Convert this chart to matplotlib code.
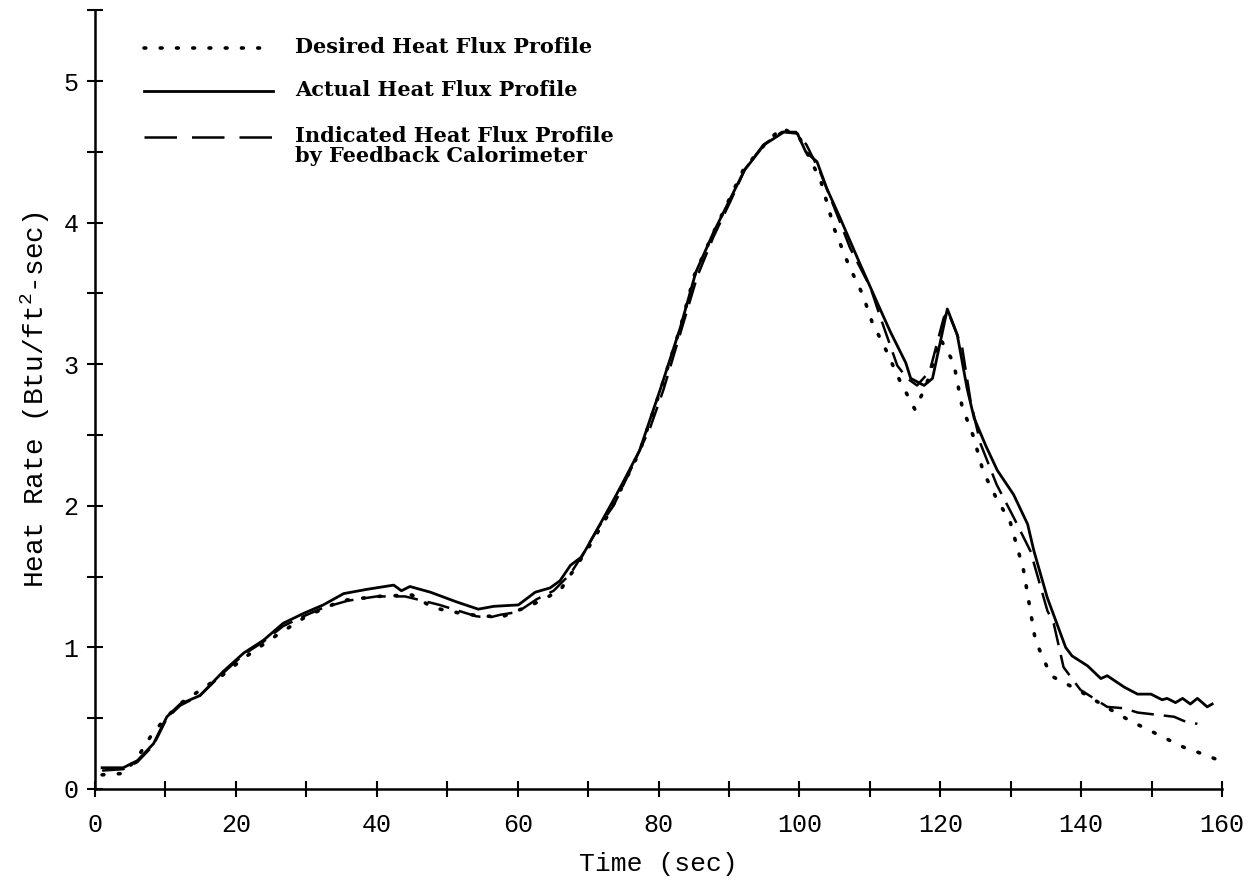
import matplotlib
matplotlib.use("Agg")
import matplotlib.pyplot as plt
from matplotlib.lines import Line2D
from matplotlib.ticker import MultipleLocator

# Desired heat flux profile (dotted)
t_desired = [1, 4, 6, 8, 10, 12, 15, 18, 21, 25, 30, 35, 40, 45, 48, 52, 55, 58, 62, 66,
             70, 73, 77.3, 80.3, 83.1, 85.1, 87.8, 89.9, 92.1, 95.4, 97.5, 100, 103, 105, 107,
             109, 110.3, 112.2, 114.2, 116.4, 118, 120, 121.9, 123.1, 124.7, 126.1, 128,
             129.9, 131.8, 133.5, 135.7, 138, 140.2, 143.5, 147, 151.5, 154.3, 157.1, 159.7]
q_desired = [0.10, 0.11, 0.22, 0.38, 0.50, 0.60, 0.70, 0.80, 0.92, 1.06, 1.22, 1.33, 1.36,
             1.37, 1.28, 1.24, 1.22, 1.22, 1.30, 1.40, 1.70, 1.95, 2.38, 2.82, 3.26, 3.63,
             3.93, 4.15, 4.38, 4.57, 4.67, 4.60, 4.30, 3.95, 3.70, 3.49, 3.30, 3.11, 2.89,
             2.68, 2.85, 3.18, 3.01, 2.70, 2.49, 2.24, 2.05, 1.89, 1.55, 1.05, 0.80, 0.74,
             0.68, 0.58, 0.48, 0.37, 0.30, 0.25, 0.20]

# Actual heat flux profile (solid)
t_actual = [1, 4, 6, 8.3, 10.2, 12.1, 14.9, 18.2, 21.1, 23.9, 26.7, 29.6, 32.4, 35.3, 38.6,
            42.4, 43.5, 44.7, 47.6, 51.4, 54.4, 56.6, 60.1, 62.5, 64.6, 66, 67.5, 69.1, 71.7,
            73.6, 75, 77.3, 80.3, 83.1, 85.3, 87.8, 90, 92.2, 95, 97.8, 99.7, 100.9, 102.5,
            103.9, 105.8, 108.5, 111, 112.9, 115.1, 115.8, 117.7, 118.9, 121, 122.4, 123.8,
            124.8, 126.5, 128.1, 130.4, 132.4, 133.3, 135.2, 137.8, 138.7, 140.9, 142.8, 143.7,
            146.1, 148, 149.9, 151.5, 152.2, 153.4, 154.4, 155.5, 156.5, 157.9, 158.6]
q_actual = [0.15, 0.15, 0.20, 0.32, 0.51, 0.60, 0.66, 0.83, 0.96, 1.05, 1.17, 1.24, 1.30, 1.38,
            1.41, 1.44, 1.40, 1.43, 1.39, 1.32, 1.27, 1.29, 1.30, 1.39, 1.42, 1.47, 1.58, 1.64,
            1.87, 2.04, 2.17, 2.39, 2.83, 3.26, 3.65, 3.93, 4.15, 4.37, 4.55, 4.64, 4.63, 4.50,
            4.43, 4.24, 4.03, 3.72, 3.44, 3.23, 3.01, 2.90, 2.85, 2.90, 3.39, 3.21, 2.83, 2.62,
            2.42, 2.25, 2.08, 1.87, 1.68, 1.35, 1.00, 0.94, 0.87, 0.78, 0.80, 0.72, 0.67, 0.67,
            0.63, 0.64, 0.61, 0.64, 0.60, 0.64, 0.58, 0.60]

# Indicated heat flux profile by feedback calorimeter (dashed)
t_indicated = [1, 4, 6, 8.3, 10.2, 12.1, 14.9, 18.2, 21.1, 23.9, 26.7, 29.6, 32.4, 35.9, 40,
               44, 46.5, 48.9, 51.5, 54.1, 55.9, 57.5, 60, 62.7, 65.1, 67.5, 69.4, 71.5, 73.6,
               76, 78.8, 80.7, 83.1, 85.5, 87.8, 90.2, 92.3, 94.9, 97.5, 99.5, 101, 103, 105,
               107.2, 110.1, 111.5, 113.9, 115.3, 116.7, 118.5, 120.5, 121.1, 123.1, 124.3,
               125.7, 128, 130.4, 132.8, 135.2, 136.1, 137.5, 139.9, 143.7, 146.1, 148, 153.2,
               154.6, 156.5]
q_indicated = [0.13, 0.14, 0.19, 0.31, 0.50, 0.59, 0.66, 0.82, 0.95, 1.04, 1.15, 1.22, 1.28,
               1.33, 1.36, 1.36, 1.33, 1.30, 1.26, 1.22, 1.21, 1.23, 1.25, 1.34, 1.40, 1.52,
               1.67, 1.85, 2.00, 2.25, 2.55, 2.82, 3.22, 3.62, 3.90, 4.15, 4.38, 4.55, 4.64,
               4.64, 4.55, 4.35, 4.10, 3.82, 3.54, 3.33, 2.99, 2.90, 2.85, 2.95, 3.33, 3.37,
               3.12, 2.74, 2.44, 2.15, 1.92, 1.68, 1.26, 1.17, 0.86, 0.70, 0.58, 0.57, 0.54,
               0.51, 0.48, 0.46]

labels = ["Desired Heat Flux Profile", "Actual Heat Flux Profile",
          "Indicated Heat Flux Profile\nby Feedback Calorimeter"]

mono = "Liberation Mono"
plt.rcParams["mathtext.fontset"] = "custom"
plt.rcParams["mathtext.rm"] = mono
plt.rcParams["mathtext.it"] = mono

fig = plt.figure(figsize=(12.54, 8.89), dpi=100)
ax = fig.add_axes([0.0758, 0.1125, 0.8987, 0.876])

dot_style = dict(color="black", lw=2.6, linestyle=(0, (0.5, 4)), dash_capstyle="round")
solid_style = dict(color="black", lw=2.0)
dash_style = dict(color="black", lw=1.8, linestyle=(0, (9, 4)))

ax.plot(t_desired, q_desired, **dot_style)
ax.plot(t_actual, q_actual, **solid_style)
ax.plot(t_indicated, q_indicated, **dash_style)

ax.set_xlim(0, 160)
ax.set_ylim(0, 5.5)
ax.spines["top"].set_visible(False)
ax.spines["right"].set_visible(False)
ax.spines["left"].set_linewidth(1.8)
ax.spines["bottom"].set_linewidth(1.8)

ax.xaxis.set_major_locator(MultipleLocator(20))
ax.xaxis.set_minor_locator(MultipleLocator(10))
ax.yaxis.set_major_locator(MultipleLocator(1))
ax.yaxis.set_minor_locator(MultipleLocator(0.5))
ax.tick_params(which="both", direction="inout", length=12, width=1.5, color="black")
ax.tick_params(axis="x", which="major", pad=11)
ax.tick_params(axis="y", which="major", pad=6)

for lab in ax.get_xticklabels() + ax.get_yticklabels():
    lab.set_fontfamily(mono)
    lab.set_fontsize(18)

ax.set_xlabel("Time (sec)", fontfamily=mono, fontsize=19, labelpad=11)
ax.set_ylabel(r"Heat Rate (Btu/ft$^{2}$-sec)", fontfamily=mono, fontsize=20, labelpad=8)

# legend drawn by hand: sample line on the left, text on the right, aligned to first text line
key_styles = [dot_style, solid_style, dict(dash_style, linestyle=(0, (13, 6)))]
key_rows = [0.946, 0.8976, 0.8459]
for style, row, text in zip(key_styles, key_rows, labels):
    fig.add_artist(Line2D([0.1148, 0.2177], [row, row], transform=fig.transFigure, **style))
    fig.text(0.2352, row + 0.012, text, ha="left", va="top", linespacing=0.95,
             family="DejaVu Serif", weight="bold", fontsize=15)

fig.savefig("out.png", dpi=100, facecolor="white")
